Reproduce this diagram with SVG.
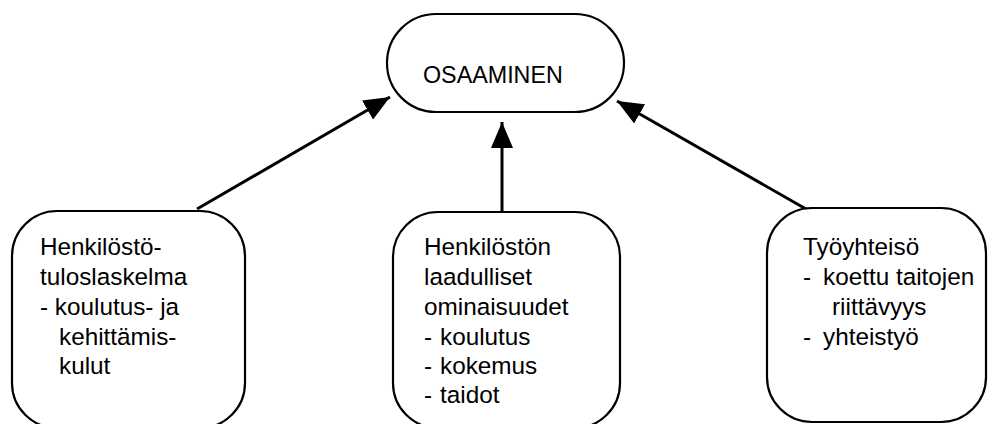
<svg xmlns="http://www.w3.org/2000/svg" width="988" height="424" viewBox="0 0 988 424">
<style>
.box{fill:#fff;stroke:#000;stroke-width:2.2}
.t{font-family:"Liberation Sans",Arial,Helvetica,sans-serif;font-size:24.3px;fill:#000}
.c{stroke:#000;stroke-width:3;fill:none;marker-end:url(#ah)}
</style>
<defs>
<marker id="ah" markerUnits="userSpaceOnUse" viewBox="0 0 26 22" refX="26" refY="11" markerWidth="26" markerHeight="22" orient="auto">
<path d="M0,0 L26,11 L0,22 Z" fill="#000"/>
</marker>
</defs>
<rect width="988" height="424" fill="#fff"/>
<g id="connectors">
<line class="c" x1="197" y1="209" x2="390" y2="97"/>
<line class="c" x1="502" y1="211" x2="502" y2="122"/>
<line class="c" x1="806" y1="209" x2="617" y2="101"/>
</g>
<g id="osaaminen">
<rect class="box" x="387" y="14" width="237" height="98" rx="49" ry="49"/>
<text class="t" x="423" y="83" style="font-size:23.3px">OSAAMINEN</text>
</g>
<g id="henkilostotuloslaskelma">
<rect class="box" x="12" y="211" width="233" height="217" rx="45" ry="45"/>
<text class="t"><tspan x="40" y="255">Henkilöstö-</tspan><tspan x="40" y="285">tuloslaskelma</tspan><tspan x="40" y="315">- koulutus- ja</tspan><tspan x="59" y="345">kehittämis-</tspan><tspan x="59" y="374">kulut</tspan></text>
</g>
<g id="laadulliset">
<rect class="box" x="393" y="212" width="227" height="216" rx="45" ry="45"/>
<text class="t"><tspan x="424" y="255">Henkilöstön</tspan><tspan x="424" y="285">laadulliset</tspan><tspan x="424" y="315">ominaisuudet</tspan><tspan x="424" y="345">- </tspan><tspan x="440" y="345">koulutus</tspan><tspan x="424" y="374">- </tspan><tspan x="440" y="374">kokemus</tspan><tspan x="424" y="403">- </tspan><tspan x="440" y="403">taidot</tspan></text>
</g>
<g id="tyoyhteiso">
<rect class="box" x="767" y="208" width="219" height="214" rx="45" ry="45"/>
<text class="t"><tspan x="803" y="255">Työyhteisö</tspan><tspan x="803" y="285">- </tspan><tspan x="823" y="285">koettu taitojen</tspan><tspan x="832" y="315">riittävyys</tspan><tspan x="803" y="345">- </tspan><tspan x="823" y="345">yhteistyö</tspan></text>
</g>
</svg>
